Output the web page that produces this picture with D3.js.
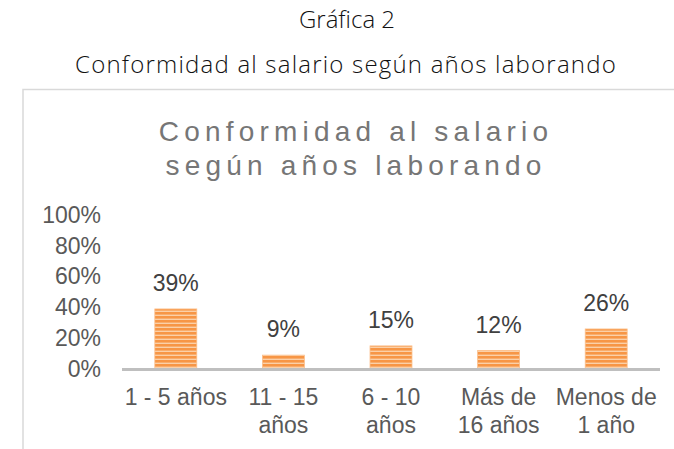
<!DOCTYPE html>
<html>
<head>
<meta charset="utf-8">
<script src="https://cdn.jsdelivr.net/npm/d3@7"></script>
<style>
  body { margin: 0; background: #fff; }
  svg { display: block; }
</style>
</head>
<body>
<div id="chart"></div>
<script>
// data
var categories = ["1 - 5 años", "11 - 15 años", "6 - 10 años", "Más de 16 años", "Menos de 1 año"];
var catLines = [["1 - 5 años"], ["11 - 15", "años"], ["6 - 10", "años"], ["Más de", "16 años"], ["Menos de", "1 año"]];
var values = [0.39, 0.09, 0.15, 0.12, 0.26];
var ticks = [0, 0.2, 0.4, 0.6, 0.8, 1];

var width = 674, height = 449;
var svg = d3.select("#chart").append("svg")
    .attr("width", width)
    .attr("height", height);

// stripe pattern for the bars
var defs = svg.append("defs");
var pat = defs.append("pattern")
    .attr("id", "stripes")
    .attr("patternUnits", "userSpaceOnUse")
    .attr("width", 8).attr("height", 4);
pat.append("rect").attr("width", 8).attr("height", 4).attr("fill", "#fbd0a8");
pat.append("rect").attr("y", 0).attr("width", 8).attr("height", 2.6).attr("fill", "#f79646");

// header above the chart
svg.append("text")
    .attr("x", 347).attr("y", 28)
    .attr("text-anchor", "middle")
    .attr("font-family", "Open Sans, sans-serif")
    .attr("font-weight", 300)
    .attr("font-size", 24)
    .attr("fill", "#111")
    .text("Gráfica 2");
svg.append("text")
    .attr("x", 346).attr("y", 73)
    .attr("text-anchor", "middle")
    .attr("font-family", "Open Sans, sans-serif")
    .attr("font-weight", 300)
    .attr("font-size", 24)
    .attr("letter-spacing", 1.2)
    .attr("fill", "#111")
    .text("Conformidad al salario según años laborando");

// chart area border (top and left visible)
svg.append("path")
    .attr("d", "M23,449V89.5H674")
    .attr("fill", "none")
    .attr("stroke", "#d9d9d9")
    .attr("stroke-width", 1.5);

// chart title
var title = svg.append("text")
    .attr("text-anchor", "middle")
    .attr("font-family", "Liberation Sans, Arial, sans-serif")
    .attr("font-size", 28)
    .attr("letter-spacing", 5.2)
    .attr("fill", "#767676");
title.append("tspan").attr("x", 356).attr("y", 141).text("Conformidad al salario");
title.append("tspan").attr("x", 356).attr("y", 175).text("según años laborando");

var x = d3.scaleBand()
    .domain(categories)
    .range([122, 660])
    .paddingInner(0.61)
    .paddingOuter(0.305);

var y = d3.scaleLinear()
    .domain([0, 1])
    .range([369, 215]);

// y axis labels
var yAxis = svg.append("g")
    .attr("transform", "translate(101,0)")
    .call(d3.axisLeft(y).tickValues(ticks).tickFormat(d3.format(".0%")).tickSize(0).tickPadding(0));
yAxis.select(".domain").remove();
yAxis.selectAll("text")
    .attr("font-family", "Liberation Sans, Arial, sans-serif")
    .attr("font-size", 23)
    .attr("fill", "#595959");

// bars
svg.selectAll(".bar")
    .data(values)
    .enter()
    .append("rect")
    .attr("class", "bar")
    .attr("x", function(d, i) { return x(categories[i]); })
    .attr("y", function(d) { return y(d); })
    .attr("width", x.bandwidth())
    .attr("height", function(d) { return y(0) - y(d); })
    .attr("fill", "url(#stripes)")
    .attr("stroke", "#fbbf8a")
    .attr("stroke-width", 0.8);

// value labels
svg.selectAll(".val")
    .data(values)
    .enter()
    .append("text")
    .attr("class", "val")
    .attr("x", function(d, i) { return x(categories[i]) + x.bandwidth() / 2; })
    .attr("y", function(d) { return y(d) - 18; })
    .attr("text-anchor", "middle")
    .attr("font-family", "Liberation Sans, Arial, sans-serif")
    .attr("font-size", 23)
    .attr("fill", "#404040")
    .text(function(d) { return d3.format(".0%")(d); });

// x axis line
svg.append("line")
    .attr("x1", 122).attr("x2", 660)
    .attr("y1", y(0) + 0.5).attr("y2", y(0) + 0.5)
    .attr("stroke", "#bfbfbf")
    .attr("stroke-width", 3);

// category labels
var cat = svg.selectAll(".cat")
    .data(catLines)
    .enter()
    .append("text")
    .attr("class", "cat")
    .attr("text-anchor", "middle")
    .attr("font-family", "Liberation Sans, Arial, sans-serif")
    .attr("font-size", 23)
    .attr("fill", "#595959");
cat.each(function(lines, i) {
    var cx = x(categories[i]) + x.bandwidth() / 2;
    d3.select(this).selectAll("tspan")
        .data(lines)
        .enter()
        .append("tspan")
        .attr("x", cx)
        .attr("y", function(d, j) { return 405 + j * 28; })
        .text(function(d) { return d; });
});
</script>
</body>
</html>
